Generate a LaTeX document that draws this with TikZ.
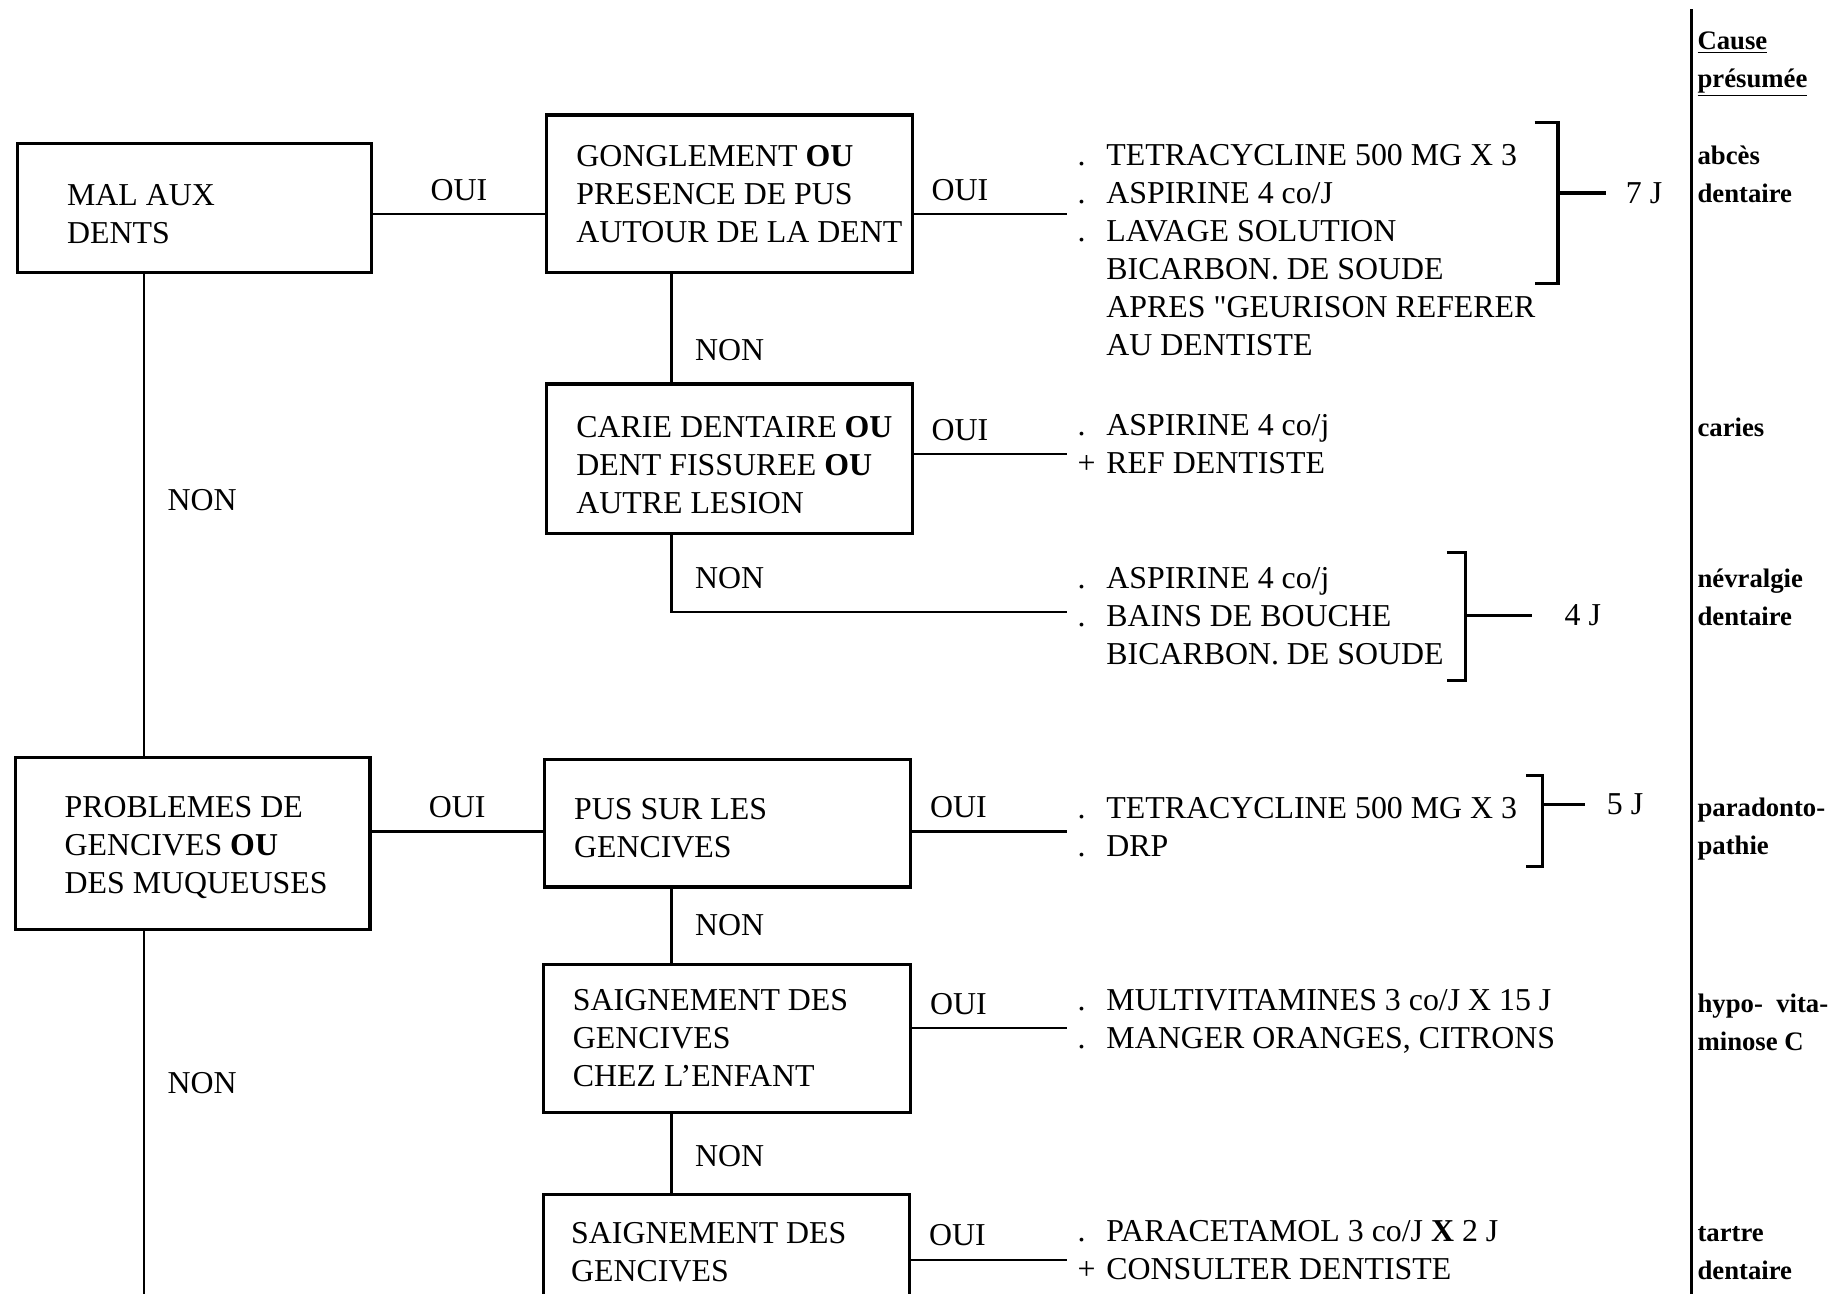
\documentclass[tikz,border=0pt]{standalone}
\usepackage{fontspec}
\setmainfont{Liberation Serif}
\usetikzlibrary{positioning}
\newcommand\tdot{\makebox[14pt][l]{.}}
\newcommand\tplus{\makebox[14pt][l]{+}}
\newcommand\tskip{\hspace*{14pt}}

\begin{document}
\begin{tikzpicture}[x=0.2mm,y=-0.2mm,
  box/.style={draw,line width=1.5pt,anchor=north west,inner sep=0pt},
  txt/.style={font=\fontsize{15.5}{18.5}\selectfont,align=left,inner sep=0pt},
  lbl/.style={font=\fontsize{15.5}{18.5}\selectfont,inner sep=1pt},
  cause/.style={font=\fontsize{13}{18.5}\selectfont\bfseries,align=left,inner sep=0pt,anchor=west},
  link/.style={line width=1.1pt},
  brk/.style={line width=1.5pt},
  dur/.style={font=\fontsize{15.5}{18.5}\selectfont,inner sep=0pt}]
\useasboundingbox (0,0) rectangle (1568,1106);
\clip (0,0) rectangle (1568,1106);
% ---- columns, rows and free ends of the connectors
\coordinate (colA) at (123,0); \coordinate (colB) at (574,0);
\coordinate (rA) at (0,183); \coordinate (rB) at (0,388); \coordinate (rD) at (0,711);
\coordinate (rE) at (0,879); \coordinate (rF) at (0,1077);
\coordinate (eA) at (912,183); \coordinate (eB) at (912,388); \coordinate (eC) at (912,523);
\coordinate (eD) at (912,711); \coordinate (eE) at (912,879); \coordinate (eF) at (912,1077);
\coordinate (eG) at (123,1130);
% ---- question boxes
\node[box,minimum width=60.4mm,minimum height=22.2mm] (b1) at (14,121) {};
\node[txt,right=8.6mm of b1.west,yshift=-1.1mm] (b1t) {MAL AUX\\DENTS};
\node[box,minimum width=62.6mm,minimum height=27mm] (b2) at (466,97) {};
\node[txt,right=5.3mm of b2.west] (b2t) {GONGLEMENT \textbf{OU}\\PRESENCE DE PUS\\AUTOUR DE LA DENT};
\node[box,minimum width=62.6mm,minimum height=25.6mm] (b3) at (466,327) {};
\node[txt,right=5.3mm of b3.west,yshift=-1mm] (b3t) {CARIE DENTAIRE \textbf{OU}\\DENT FISSUREE \textbf{OU}\\AUTRE LESION};
\node[box,minimum width=60.6mm,minimum height=29.4mm] (b4) at (12,646) {};
\node[txt,right=8.6mm of b4.west,yshift=-0.7mm] (b4t) {PROBLEMES DE\\GENCIVES \textbf{OU}\\DES MUQUEUSES};
\node[box,minimum width=62.6mm,minimum height=21.8mm] (b5) at (464,648) {};
\node[txt,right=5.3mm of b5.west,yshift=-0.8mm] (b5t) {PUS SUR LES\\GENCIVES};
\node[box,minimum width=62.8mm,minimum height=25.4mm] (b6) at (463,823) {};
\node[txt,right=5.3mm of b6.west] (b6t) {SAIGNEMENT DES\\GENCIVES\\CHEZ L'ENFANT};
\node[box,minimum width=62.6mm,minimum height=19.6mm] (b7) at (463,1020) {};
\node[txt,right=5mm of b7.west] (b7t) {SAIGNEMENT DES\\GENCIVES};
% ---- connectors
\draw[link] (b1.east |- rA) -- node[lbl,above=5pt] {OUI} (b2.west |- rA);
\draw[link] (b2.east |- rA) -- node[lbl,above=5pt,pos=.3] {OUI} (eA);
\draw[link] (b3.east |- rB) -- node[lbl,above=5pt,pos=.3] {OUI} (eB);
\draw[link] (b4.east |- rD) -- node[lbl,above=5pt] {OUI} (b5.west |- rD);
\draw[link] (b5.east |- rD) -- node[lbl,above=5pt,pos=.3] {OUI} (eD);
\draw[link] (b6.east |- rE) -- node[lbl,above=5pt,pos=.3] {OUI} (eE);
\draw[link] (b7.east |- rF) -- node[lbl,above=5pt,pos=.3] {OUI} (eF);
\draw[link] (b1.south -| colA) -- node[lbl,right=10pt,pos=.47] {NON} (b4.north -| colA);
\draw[link] (b4.south -| colA) -- node[lbl,right=10pt,pos=.39] {NON} (eG);
\draw[link] (b2.south -| colB) -- node[lbl,right=10pt,pos=.7] {NON} (b3.north -| colB);
\draw[link] (b3.south -| colB) |- node[lbl,right=10pt,pos=.28] {NON} (eC);
\draw[link] (b5.south -| colB) -- node[lbl,right=10pt] {NON} (b6.north -| colB);
\draw[link] (b6.south -| colB) -- node[lbl,right=10pt,pos=.53] {NON} (b7.north -| colB);
% ---- treatments
\node[txt,anchor=west] (tA) at (921,214) {\tdot TETRACYCLINE 500 MG X 3\\\tdot ASPIRINE 4 co/J\\\tdot LAVAGE SOLUTION\\\tskip BICARBON. DE SOUDE\\\tskip APRES \textquotedbl GEURISON REFERER\\\tskip AU DENTISTE};
\node[txt,anchor=west] (tB) at (921,380) {\tdot ASPIRINE 4 co/j\\\tplus REF DENTISTE};
\node[txt,anchor=west] (tC) at (921,527) {\tdot ASPIRINE 4 co/j\\\tdot BAINS DE BOUCHE\\\tskip BICARBON. DE SOUDE};
\node[txt,anchor=west] (tD) at (921,707) {\tdot TETRACYCLINE 500 MG X 3\\\tdot DRP};
\node[txt,anchor=west] (tE) at (921,873) {\tdot MULTIVITAMINES 3 co/J X 15 J\\\tdot MANGER ORANGES, CITRONS};
\node[txt,anchor=west] (tF) at (921,1069) {\tdot PARACETAMOL 3 co/J \textbf{X} 2 J\\\tplus CONSULTER DENTISTE};
% ---- brackets with durations
\draw[brk] (1312,105) -- (1332,105) -- (1332,242) -- (1312,242);
\draw[brk] (1332,165) -- (1373,165) node[dur,right=9pt] (dA) {7 J};
\draw[brk] (1237,472) -- (1253,472) -- (1253,582) -- (1237,582);
\draw[brk] (1253,526) -- (1310,526) node[dur,right=15pt] (dC) {4 J};
\draw[brk] (1305,663) -- (1319,663) -- (1319,741) -- (1305,741);
\draw[brk] (1319,688) -- (1355,688) node[dur,right=10pt] (dD) {5 J};
% ---- presumed causes
\draw[line width=1.4pt] (1446,8) -- (1446,1130);
\node[cause] (hd) at (1451,55) {\underline{Cause}\\\underline{présumée}};
\node[cause] (cA) at (1451,149) {abcès\\dentaire};
\node[cause] (cB) at (1451,365) {caries};
\node[cause] (cC) at (1451,511) {névralgie\\dentaire};
\node[cause] (cD) at (1451,709) {paradonto-\\pathie};
\node[cause] (cE) at (1451,874) {hypo- \ vita-\\minose C};
\node[cause] (cF) at (1451,1071) {tartre\\dentaire};
\end{tikzpicture}
\end{document}
